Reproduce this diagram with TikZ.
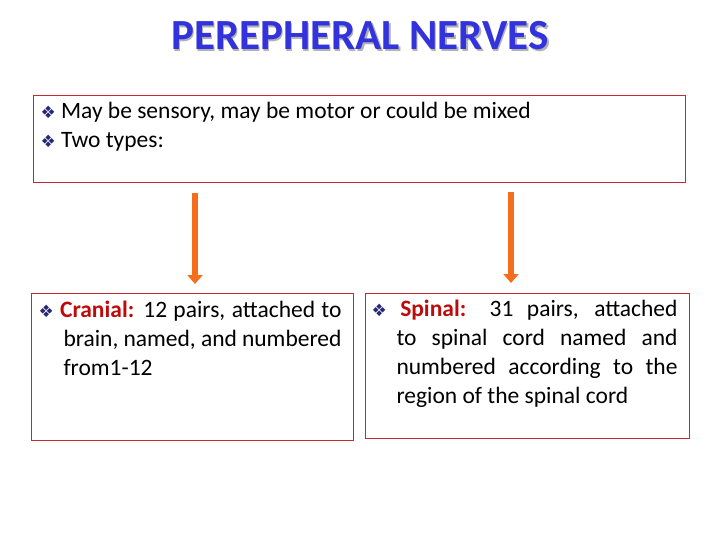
\documentclass[tikz,border=0pt]{standalone}
\usepackage{fontspec}
\setmainfont{Carlito}
\newfontfamily\symfont{DejaVu Sans}
\usetikzlibrary{arrows.meta,positioning}
\definecolor{titleblue}{RGB}{51,51,221}
\definecolor{boxred}{RGB}{200,40,50}
\definecolor{arroworange}{RGB}{245,110,30}
\definecolor{bulletblue}{RGB}{40,40,120}
\definecolor{wordred}{RGB}{190,10,10}
\newcommand{\bul}{{\color{bulletblue}\symfont\fontsize{17}{17}\selectfont ❖}~}
\tikzset{
  bigarrow/.style={arroworange, line width=6pt, -{Triangle[width=15pt,length=9pt]}},
  bodytext/.style={anchor=north west, font=\fontsize{23.5}{29}\selectfont}
}
\begin{document}
\begin{tikzpicture}[x=1pt,y=-1pt]
        \useasboundingbox (0,0) rectangle (720,540);
        % title with shadow
        \node[gray!60, font=\fontsize{43}{46}\selectfont\bfseries] at (361.5,37.5) {PEREPHERAL NERVES};
        \node[titleblue, font=\fontsize{43}{46}\selectfont\bfseries] (title) at (360,36) {PEREPHERAL NERVES};
        % boxes
        \draw[boxred, line width=0.8pt] (33,95) rectangle (685,182);
        \node[bodytext, align=left] (types) at (37,99)
          {\bul May be sensory, may be motor or could be mixed\\ \bul Two types:};
        \draw[boxred, line width=0.8pt] (31,293) rectangle (353,440);
        \node[bodytext, text width=303pt, align=justify] (cranial) at (35,297)
          {\hyphenpenalty=10000\hangindent=25pt\hangafter=1 \bul{\color{wordred}\bfseries Cranial:} 12 pairs, attached to brain, named, and numbered from1-12\par};
        \draw[boxred, line width=0.8pt] (365,293) rectangle (689,438);
        \node[bodytext, text width=306pt, align=justify] (spinal) at (368,296)
          {\hyphenpenalty=10000\hangindent=25pt\hangafter=1 \bul{\color{wordred}\bfseries Spinal:} 31 pairs, attached to spinal cord named and numbered according to the region of the spinal cord\par};
        % arrows
        \coordinate (a1) at (195,193);
        \coordinate (b1) at (195,284);
        \coordinate (a2) at (511,192);
        \coordinate (b2) at (511,283);
        \draw[bigarrow] (a1) -- (b1);
        \draw[bigarrow] (a2) -- (b2);
\end{tikzpicture}
\end{document}
